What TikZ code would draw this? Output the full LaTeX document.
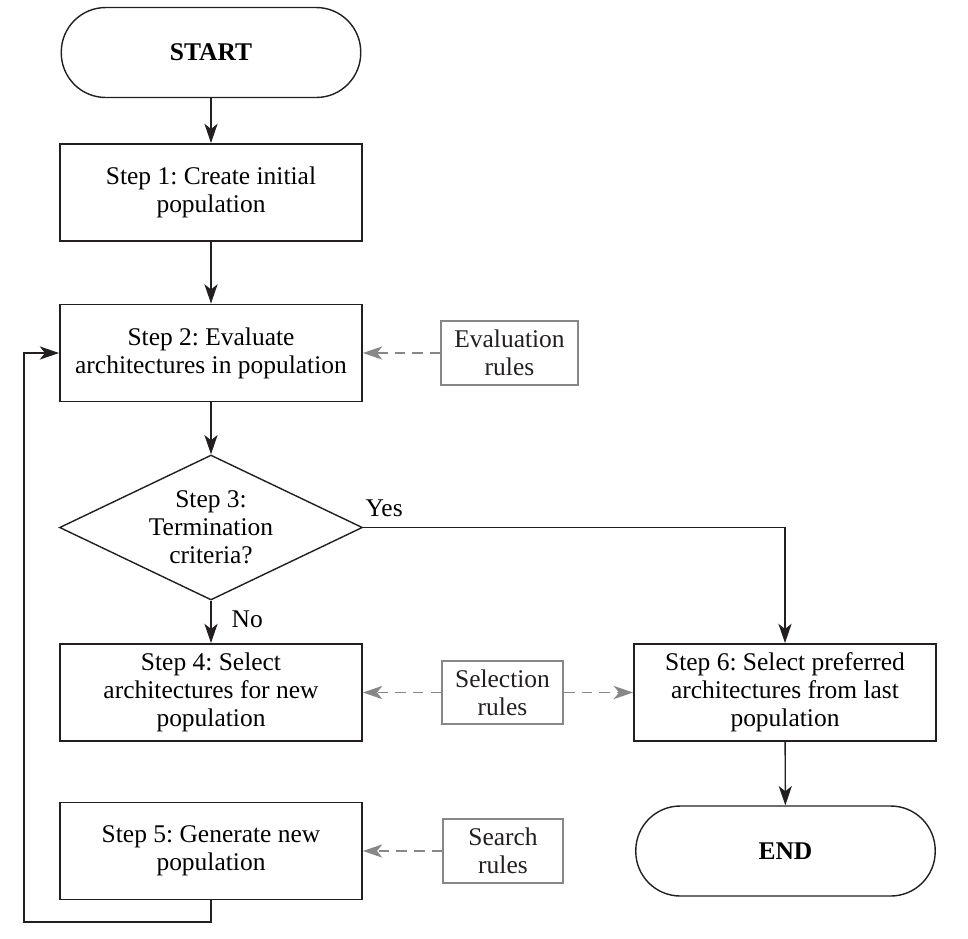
\documentclass[tikz,border=0pt]{standalone}
\usepackage{fontspec}
\usepackage{xcolor}
\setmainfont{Liberation Serif}
\usetikzlibrary{shapes.geometric,arrows.meta}
\definecolor{ink}{RGB}{35,31,32}
\definecolor{rulegray}{RGB}{135,135,135}
\frenchspacing

\begin{document}
\begin{tikzpicture}[x=0.02cm,y=-0.02cm,
  font=\fontsize{14.5}{16}\selectfont,
  stepbox/.style={draw=ink,line width=1.1pt,minimum width=6.04cm,minimum height=1.94cm,align=center,inner sep=0pt},
  term/.style={draw=ink,line width=0.8pt,rounded corners=0.89cm,minimum width=5.99cm,minimum height=1.8cm,font=\fontsize{14.5}{16}\selectfont\bfseries},
  decision/.style={draw=ink,diamond,shape aspect=2.09,line width=0.8pt,minimum width=6.06cm,minimum height=2.9cm,align=center,inner sep=0pt},
  rulebox/.style={draw=rulegray,line width=1pt,minimum width=2.4cm,minimum height=1.27cm,inner xsep=7.5pt,align=center,text=ink},
  flow/.style={draw=ink,line width=0.8pt,-{Stealth[length=11pt,width=7.5pt,inset=3pt]}},
  ruleflow/.style={draw=rulegray,line width=1.1pt,dash pattern=on 6pt off 4pt,-{Stealth[length=11pt,width=7.5pt,inset=3pt]}}]

\useasboundingbox (0,0) rectangle (968,938);

\node[term] (start) at (211,52.5) {START};
\node[stepbox] (s1) at (211,192.5) {Step 1: Create initial\\population};
\node[stepbox] (s2) at (211,353) {Step 2: Evaluate\\architectures in population};
\node[decision] (s3) at (211,527.5) {Step 3:\\Termination\\criteria?};
\node[stepbox] (s4) at (211,692.5) {Step 4: Select\\architectures for new\\population};
\node[stepbox] (s5) at (211,851) {Step 5: Generate new\\population};
\node[stepbox] (s6) at (785,692.5) {Step 6: Select preferred\\architectures from last\\population};
\node[term] (end) at (785.5,851) {END};

\node[rulebox] (eval) at (509.5,353) {Evaluation\\rules};
\node[rulebox] (sel) at (502.5,692.5) {Selection\\rules};
\node[rulebox] (search) at (503,851) {Search\\rules};

\coordinate (loop) at (24,922);

\draw[flow] (start) -- (s1);
\draw[flow] (s1) -- (s2);
\draw[flow] (s2) -- (s3);
\draw[flow] (s3) -- node[pos=0.45,anchor=west,xshift=8pt] {No} (s4);
\draw[flow] (s3.east) -| node[pos=0,anchor=base west,inner sep=1pt,yshift=6pt] {Yes} (s6.north);
\draw[flow] (s6) -- (end);
\draw[flow] (s5.south) |- (loop) |- (s2.west);

\draw[ruleflow] (eval) -- (s2);
\draw[ruleflow] (sel) -- (s4);
\draw[ruleflow] (sel) -- (s6);
\draw[ruleflow] (search) -- (s5);

\end{tikzpicture}
\end{document}
